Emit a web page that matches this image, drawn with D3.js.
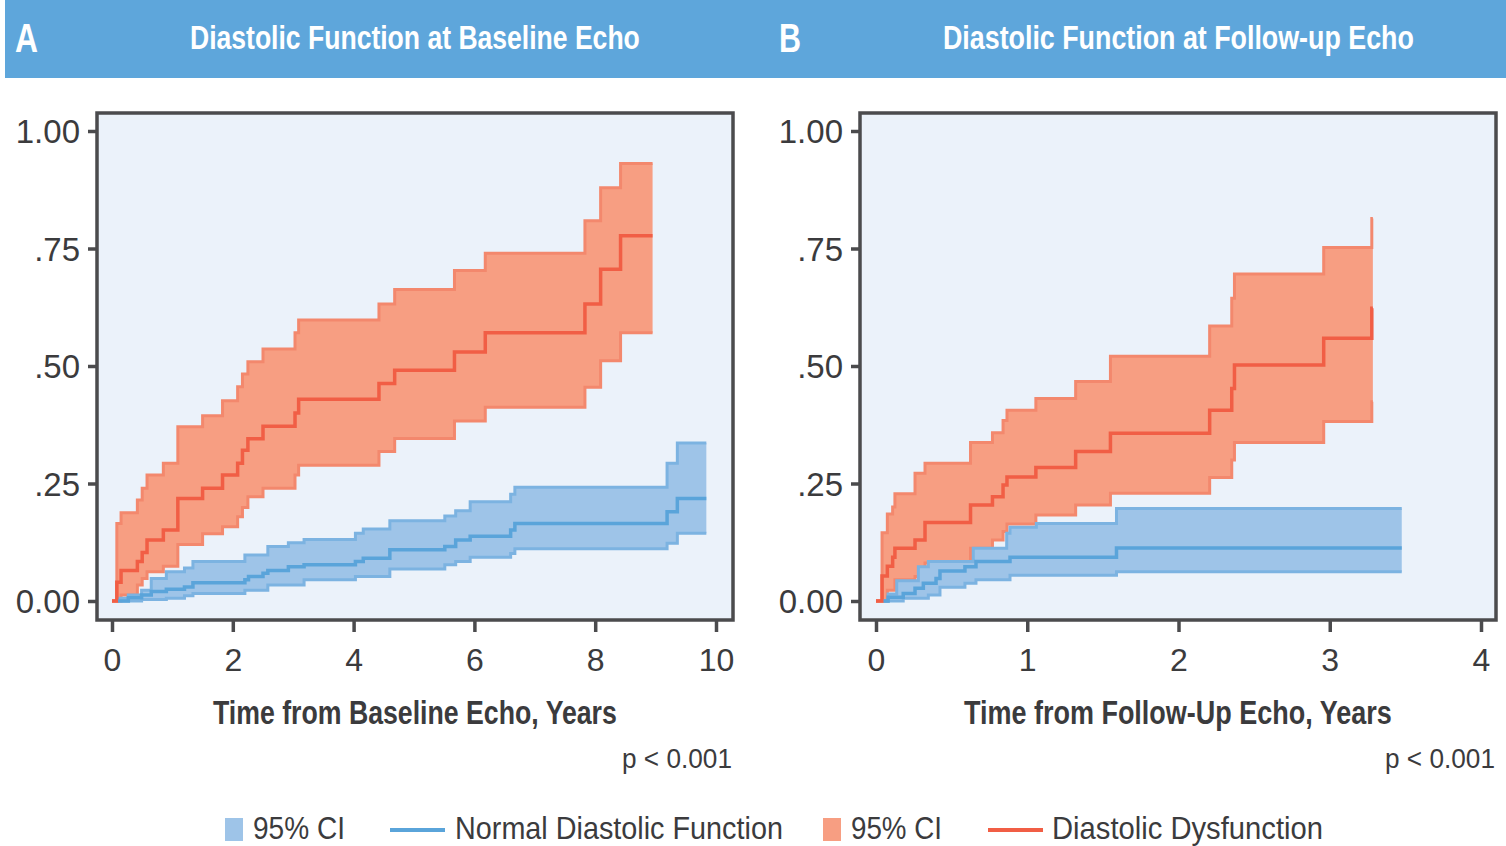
<!DOCTYPE html>
<html>
<head>
<meta charset="utf-8">
<script src="https://cdn.jsdelivr.net/npm/d3@7"></script>
<style>
  html, body { margin: 0; padding: 0; background: #ffffff; }
  svg { display: block; }
  text { font-family: "Liberation Sans Narrow", "Arial Narrow", "Liberation Sans", Arial, sans-serif; fill: #3b3b3d; }
  .tick text { font-family: "Liberation Sans", Arial, sans-serif; }
</style>
</head>
<body>
<svg id="chart" width="1506" height="846"></svg>
<script>
// ---------------- DATA ----------------
const panelLetters = ["A", "B"];
const panelTitles = ["Diastolic Function at Baseline Echo", "Diastolic Function at Follow-up Echo"];
const xAxisTitles = ["Time from Baseline Echo, Years", "Time from Follow-Up Echo, Years"];
const pValues = ["p < 0.001", "p < 0.001"];
const yTickValues = [0, 0.25, 0.5, 0.75, 1];
const yTickLabels = ["0.00", ".25", ".50", ".75", "1.00"];
const xTicksA = [0, 2, 4, 6, 8, 10];
const xTicksB = [0, 1, 2, 3, 4];
const legendLabels = ["95% CI", "Normal Diastolic Function", "95% CI", "Diastolic Dysfunction"];

// Panel A — Diastolic dysfunction (cumulative incidence, step times in years)
const aRedT   = [0, 0.08, 0.15, 0.42, 0.50, 0.58, 0.85, 1.09, 1.50, 1.83, 2.08, 2.16, 2.25, 2.50, 3.03, 3.09, 4.42, 4.68, 5.67, 6.18, 7.83, 8.09, 8.42];
const aRedMed = [0, 0.040, 0.065, 0.084, 0.103, 0.130, 0.151, 0.218, 0.240, 0.268, 0.293, 0.321, 0.345, 0.372, 0.400, 0.429, 0.463, 0.491, 0.530, 0.571, 0.632, 0.706, 0.777];
const aRedHi  = [0, 0.165, 0.188, 0.215, 0.240, 0.268, 0.293, 0.371, 0.394, 0.426, 0.456, 0.483, 0.509, 0.536, 0.571, 0.598, 0.632, 0.663, 0.703, 0.740, 0.809, 0.879, 0.931];
const aRedLo  = [0, 0, 0.013, 0.034, 0.048, 0.062, 0.074, 0.120, 0.143, 0.158, 0.179, 0.199, 0.222, 0.240, 0.268, 0.289, 0.318, 0.346, 0.383, 0.412, 0.455, 0.511, 0.571];
const aRedEnd = 8.95;

// Panel A — Normal diastolic function
const aBlueT   = [0.10, 0.27, 0.49, 0.65, 0.90, 1.20, 1.34, 2.20, 2.26, 2.50, 2.58, 2.92, 3.18, 4.03, 4.16, 4.60, 5.51, 5.69, 5.93, 6.60, 6.67, 9.19, 9.36];
const aBlueMed = [0, 0.007, 0.013, 0.020, 0.025, 0.030, 0.039, 0.045, 0.052, 0.059, 0.065, 0.073, 0.077, 0.084, 0.091, 0.109, 0.116, 0.130, 0.138, 0.151, 0.165, 0.190, 0.218];
const aBlueHi  = [0.006, 0.013, 0.023, 0.048, 0.062, 0.070, 0.084, 0.098, 0.098, 0.098, 0.116, 0.124, 0.131, 0.144, 0.153, 0.171, 0.181, 0.192, 0.211, 0.227, 0.242, 0.293, 0.336];
const aBlueLo  = [0, 0, 0.003, 0.003, 0.006, 0.011, 0.016, 0.023, 0.023, 0.023, 0.034, 0.034, 0.045, 0.052, 0.052, 0.068, 0.077, 0.084, 0.093, 0.101, 0.111, 0.123, 0.144];
const aBlueEnd = 9.84;

// Panel B — Diastolic dysfunction
const bRedT   = [0, 0.04, 0.075, 0.11, 0.125, 0.258, 0.324, 0.625, 0.77, 0.84, 0.866, 1.057, 1.32, 1.55, 2.206, 2.352, 2.37, 2.96, 3.278];
const bRedMed = [0, 0.053, 0.074, 0.093, 0.112, 0.130, 0.167, 0.204, 0.222, 0.247, 0.264, 0.284, 0.318, 0.357, 0.406, 0.452, 0.502, 0.559, 0.623];
const bRedHi  = [0, 0.145, 0.185, 0.200, 0.228, 0.272, 0.293, 0.337, 0.358, 0.384, 0.406, 0.431, 0.467, 0.521, 0.585, 0.644, 0.696, 0.752, 0.814];
const bRedLo  = [0, 0, 0.023, 0.023, 0.045, 0.052, 0.081, 0.112, 0.130, 0.148, 0.164, 0.183, 0.204, 0.229, 0.263, 0.300, 0.337, 0.382, 0.424];
const bRedEnd = 3.285;

// Panel B — Normal diastolic function
const bBlueT   = [0.05, 0.08, 0.137, 0.18, 0.258, 0.28, 0.313, 0.346, 0.397, 0.423, 0.588, 0.643, 0.661, 0.864, 0.886, 1.06, 1.59];
const bBlueMed = [0, 0.008, 0.008, 0.016, 0.027, 0.027, 0.038, 0.038, 0.048, 0.064, 0.073, 0.073, 0.084, 0.084, 0.093, 0.093, 0.113];
const bBlueHi  = [0, 0.015, 0.043, 0.043, 0.043, 0.073, 0.073, 0.084, 0.084, 0.084, 0.084, 0.112, 0.112, 0.144, 0.157, 0.165, 0.197];
const bBlueLo  = [0, 0, 0, 0.006, 0.006, 0.006, 0.006, 0.013, 0.013, 0.029, 0.038, 0.038, 0.045, 0.045, 0.055, 0.055, 0.062];
const bBlueEnd = 3.476;

// ---------------- STYLE ----------------
const C = {
  header: "#5ea6db",
  plotBg: "#ebf2fa",
  frame: "#4b4b4d",
  text: "#3b3b3d",
  redFill: "#f79e82", redEdge: "#f3886d", redLine: "#f15e45",
  blueFill: "#9ec4e8", blueEdge: "#7cb3e1", blueLine: "#5aa4da"
};

const svg = d3.select("#chart");

// place a text so its left edge is at x, baseline at y, and its width is w (horizontal scaling)
function fitText(parent, str, x, y, w, size, weight, color) {
  const t = parent.append("text").attr("x", 0).attr("y", 0)
    .attr("font-size", size).attr("font-weight", weight || "normal")
    .style("fill", color || C.text).text(str);
  const n = t.node().getComputedTextLength() || w;
  t.attr("transform", `translate(${x},${y}) scale(${w / n},1)`);
  return t;
}

function series(T, med, lo, hi, end) {
  const pts = T.map((t, i) => ({ t, med: med[i], lo: lo[i], hi: hi[i] }));
  const last = pts[pts.length - 1];
  pts.push({ t: end, med: last.med, lo: last.lo, hi: last.hi });
  return pts;
}

function drawPanel(cfg) {
  const g = svg.append("g");
  const x = d3.scaleLinear().domain(cfg.xDomain).range(cfg.xRange);
  const y = d3.scaleLinear().domain([0, 1]).range([601, 131]);

  g.append("rect").attr("x", cfg.box[0]).attr("y", cfg.box[1])
    .attr("width", cfg.box[2] - cfg.box[0]).attr("height", cfg.box[3] - cfg.box[1])
    .attr("fill", C.plotBg);

  const area = d3.area().curve(d3.curveStepAfter)
    .x(d => x(d.t)).y0(d => y(d.lo)).y1(d => y(d.hi));
  const lineOf = key => d3.line().curve(d3.curveStepAfter).x(d => x(d.t)).y(d => y(d[key]));

  cfg.groups.forEach(s => {
    g.append("path").datum(s.data).attr("d", area).attr("fill", s.fill).attr("stroke", "none");
    ["lo", "hi"].forEach(k => {
      g.append("path").datum(s.data).attr("d", lineOf(k))
        .attr("fill", "none").attr("stroke", s.edge).attr("stroke-width", 3);
    });
  });
  cfg.groups.forEach(s => {
    g.append("path").datum(s.data).attr("d", lineOf("med"))
      .attr("fill", "none").attr("stroke", s.line).attr("stroke-width", 3.5);
  });

  g.append("rect").attr("x", cfg.box[0]).attr("y", cfg.box[1])
    .attr("width", cfg.box[2] - cfg.box[0]).attr("height", cfg.box[3] - cfg.box[1])
    .attr("fill", "none").attr("stroke", C.frame).attr("stroke-width", 3.5);

  const ya = g.append("g").attr("transform", `translate(${cfg.box[0]},0)`)
    .call(d3.axisLeft(y).tickValues(yTickValues)
      .tickFormat((d, i) => yTickLabels[i]).tickSize(9).tickPadding(8));
  ya.select(".domain").remove();
  ya.selectAll(".tick line").attr("stroke", C.frame).attr("stroke-width", 3.5);
  ya.selectAll(".tick text").attr("font-size", 33).attr("fill", C.text).attr("dy", "0.36em");

  const xa = g.append("g").attr("transform", `translate(0,${cfg.box[3]})`)
    .call(d3.axisBottom(x).tickValues(cfg.xTicks).tickFormat(d3.format("d")).tickSize(12).tickPadding(16));
  xa.select(".domain").remove();
  xa.selectAll(".tick line").attr("stroke", C.frame).attr("stroke-width", 3.5);
  xa.selectAll(".tick text").attr("font-size", 32).attr("fill", C.text);

  fitText(g, cfg.axisTitleText, cfg.axisTitle[0], 724, cfg.axisTitle[1], 33, "bold");
  fitText(g, cfg.pText, cfg.pPos[0], 768, cfg.pPos[1], 28, "normal");
}

// ---------------- HEADER ----------------
svg.append("rect").attr("x", 5).attr("y", 0).attr("width", 1501).attr("height", 78).attr("fill", C.header);
const headerLayout = [
  { letterX: 15, letterW: 23, titleX: 190, titleW: 450 },
  { letterX: 779, letterW: 22, titleX: 943, titleW: 471 }
];
headerLayout.forEach((h, i) => {
  fitText(svg, panelLetters[i], h.letterX, 52, h.letterW, 41, "bold", "#ffffff");
  fitText(svg, panelTitles[i], h.titleX, 49, h.titleW, 33, "bold", "#ffffff");
});

// ---------------- PANELS ----------------
drawPanel({
  box: [97, 113, 733, 620],
  xDomain: [0, 10], xRange: [112, 716], xTicks: xTicksA,
  axisTitle: [213, 404], axisTitleText: xAxisTitles[0],
  pPos: [622, 110], pText: pValues[0],
  groups: [
    { data: series(aRedT, aRedMed, aRedLo, aRedHi, aRedEnd), fill: C.redFill, edge: C.redEdge, line: C.redLine },
    { data: series(aBlueT, aBlueMed, aBlueLo, aBlueHi, aBlueEnd), fill: C.blueFill, edge: C.blueEdge, line: C.blueLine }
  ]
});
drawPanel({
  box: [860, 113, 1496, 620],
  xDomain: [0, 4], xRange: [876, 1481], xTicks: xTicksB,
  axisTitle: [964, 428], axisTitleText: xAxisTitles[1],
  pPos: [1385, 110], pText: pValues[1],
  groups: [
    { data: series(bRedT, bRedMed, bRedLo, bRedHi, bRedEnd), fill: C.redFill, edge: C.redEdge, line: C.redLine },
    { data: series(bBlueT, bBlueMed, bBlueLo, bBlueHi, bBlueEnd), fill: C.blueFill, edge: C.blueEdge, line: C.blueLine }
  ]
});

// ---------------- LEGEND ----------------
const legendItems = [
  { kind: "box",  color: C.blueFill, x: 225, textX: 253, textW: 92 },
  { kind: "line", color: C.blueLine, x: 390, textX: 455, textW: 328 },
  { kind: "box",  color: C.redFill,  x: 823, textX: 851, textW: 91 },
  { kind: "line", color: C.redLine,  x: 988, textX: 1052, textW: 271 }
];
const lg = svg.append("g");
legendItems.forEach((d, i) => {
  if (d.kind === "box") {
    lg.append("rect").attr("x", d.x).attr("y", 818).attr("width", 18).attr("height", 23).attr("fill", d.color);
  } else {
    lg.append("line").attr("x1", d.x).attr("x2", d.x + 55).attr("y1", 830).attr("y2", 830)
      .attr("stroke", d.color).attr("stroke-width", 4);
  }
  fitText(lg, legendLabels[i], d.textX, 839, d.textW, 31, "normal");
});
</script>
</body>
</html>
